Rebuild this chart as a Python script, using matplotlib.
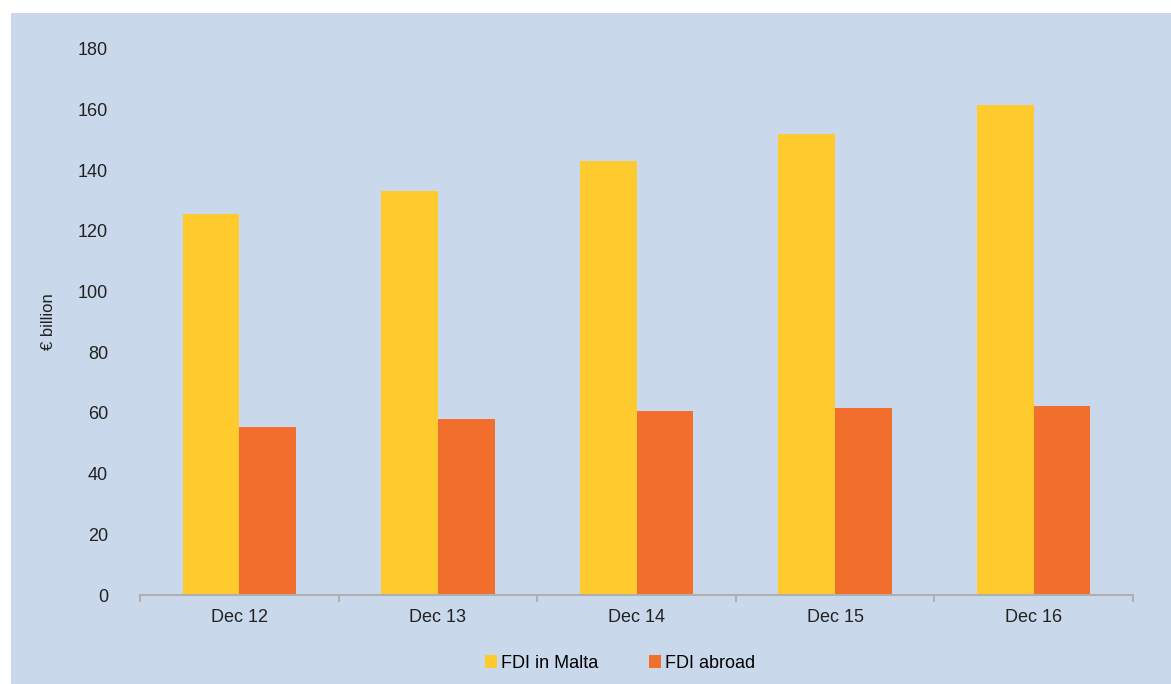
import numpy as np
import matplotlib
matplotlib.use('Agg')
import matplotlib.pyplot as plt
from matplotlib.patches import Rectangle

plt.rcParams['font.family'] = ['Liberation Sans', 'DejaVu Sans']

categories = ['Dec 12', 'Dec 13', 'Dec 14', 'Dec 15', 'Dec 16']
fdi_malta = [125.6, 133.2, 143.1, 152.0, 161.5]
fdi_abroad = [55.4, 58.0, 60.7, 61.7, 62.3]
yticks = [0, 20, 40, 60, 80, 100, 120, 140, 160, 180]

bg = '#c9d9eb'
yellow = '#ffca2d'
orange = '#f26e2c'

W, H = 1171, 684
fig = plt.figure(figsize=(W / 100, H / 100), dpi=100)
fig.patch.set_facecolor('white')
fig.add_artist(Rectangle((11 / W, 0), 1 - 11 / W, 1 - 13 / H,
                         transform=fig.transFigure, facecolor=bg,
                         edgecolor='none', zorder=-10))

ax = fig.add_axes([140 / W, 1 - 595 / H, (1133 - 140) / W, (595 - 49) / H])
ax.set_facecolor('none')
ax.set_zorder(5)

x = np.arange(len(categories))
w = 0.285
ax.bar(x - w / 2, fdi_malta, w, color=yellow, label='FDI in Malta')
ax.bar(x + w / 2, fdi_abroad, w, color=orange, label='FDI abroad')

ax.set_xlim(-0.5, len(categories) - 0.5)
ax.set_ylim(0, 180)
ax.set_yticks(yticks)
ax.set_yticklabels([str(t) for t in yticks], fontsize=13, color='#222222')
ax.tick_params(axis='y', length=0, pad=23)

ax.set_xticks(x)
ax.set_xticklabels(categories, fontsize=13, color='#222222')
ax.tick_params(axis='x', length=0, pad=10)
ax.set_xticks(np.arange(-0.5, len(categories)), minor=True)
ax.tick_params(axis='x', which='minor', length=5, width=1.5, color='#b0b0b0')

for s in ['top', 'right', 'left']:
    ax.spines[s].set_visible(False)
ax.spines['bottom'].set_color('#b0b0b0')
ax.spines['bottom'].set_linewidth(1.5)

ax.set_ylabel('€ billion', fontsize=12, color='#222222', labelpad=16)

fig.legend(loc='center', bbox_to_anchor=(620 / W, 1 - 663 / H), ncol=2,
           frameon=False, fontsize=13, handlelength=0.7, handleheight=0.7,
           handletextpad=0.2, columnspacing=2.8)

fig.savefig('out.png', dpi=100)
